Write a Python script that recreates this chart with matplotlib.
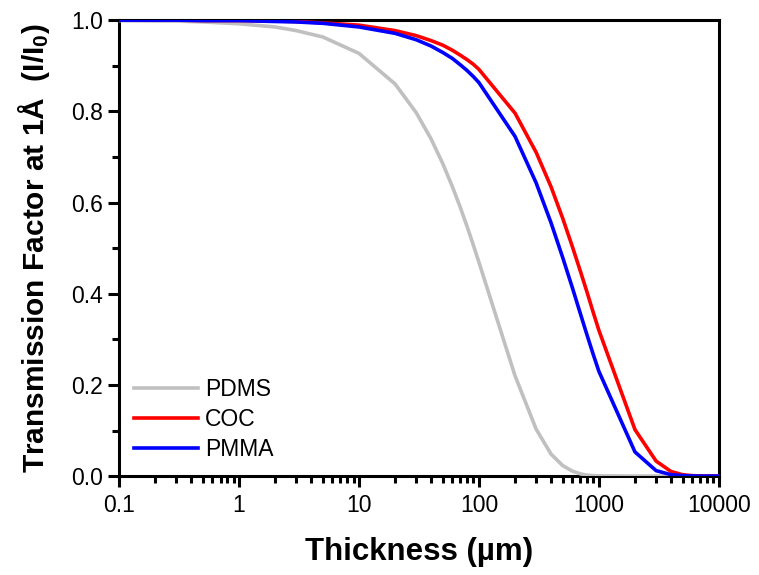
import matplotlib
matplotlib.use("Agg")
import matplotlib.pyplot as plt
from matplotlib.ticker import LogLocator, FixedLocator, MultipleLocator

plt.rcParams['font.family'] = ['Liberation Sans', 'DejaVu Sans']
plt.rcParams['mathtext.default'] = 'regular'

# thickness in um
thickness = [0.1, 0.2, 0.3, 0.5, 1, 2, 3, 5, 10, 20, 30, 40, 50, 60, 70, 80, 90,
             100, 200, 300, 400, 500, 600, 700, 800, 900, 1000,
             2000, 3000, 4000, 5000, 6000, 7000, 8000, 9000, 10000]

pdms = [0.999, 0.998, 0.998, 0.996, 0.992, 0.985, 0.977, 0.963, 0.927, 0.860,
        0.797, 0.739, 0.685, 0.635, 0.589, 0.546, 0.506,
        0.469, 0.220, 0.103, 0.048, 0.023, 0.011, 0.005, 0.002, 0.001, 0.0005,
        0.0, 0.0, 0.0, 0.0, 0.0, 0.0, 0.0, 0.0, 0.0]

coc = [1.0, 1.0, 1.0, 0.999, 0.999, 0.998, 0.997, 0.994, 0.989, 0.977,
       0.966, 0.955, 0.945, 0.934, 0.923, 0.913, 0.903,
       0.892, 0.796, 0.710, 0.634, 0.565, 0.504, 0.450, 0.402, 0.358, 0.320,
       0.102, 0.033, 0.010, 0.003, 0.001, 0.0003, 0.0001, 0.0, 0.0]

pmma = [1.0, 1.0, 1.0, 0.999, 0.999, 0.997, 0.996, 0.993, 0.985, 0.971,
        0.957, 0.943, 0.929, 0.916, 0.902, 0.889, 0.876,
        0.863, 0.745, 0.643, 0.555, 0.479, 0.414, 0.357, 0.308, 0.266, 0.230,
        0.053, 0.012, 0.003, 0.001, 0.0002, 0.0, 0.0, 0.0, 0.0]

fig = plt.figure(figsize=(7.59, 5.75), dpi=100)
ax = fig.add_axes([0.157, 0.172, 0.790, 0.793])

ax.plot(thickness, pdms, color='#c0c0c0', lw=2.6, label='PDMS', zorder=3)
ax.plot(thickness, coc, color='#ff0000', lw=2.6, label='COC', zorder=3)
ax.plot(thickness, pmma, color='#0000ff', lw=2.6, label='PMMA', zorder=3)

ax.set_xscale('log')
ax.set_xlim(0.1, 10000)
ax.set_ylim(0, 1.0)

ax.xaxis.set_major_locator(FixedLocator([0.1, 1, 10, 100, 1000, 10000]))
ax.set_xticklabels(['0.1', '1', '10', '100', '1000', '10000'])
ax.xaxis.set_minor_locator(LogLocator(base=10, subs=range(2, 10), numticks=20))
ax.yaxis.set_major_locator(MultipleLocator(0.2))
ax.yaxis.set_minor_locator(MultipleLocator(0.1))
ax.set_yticklabels(['%.1f' % v for v in ax.get_yticks()])

for s in ax.spines.values():
    s.set_linewidth(2.2)

ax.tick_params(which='major', direction='out', length=8, width=2.2,
               labelsize=16.5, top=False, right=False)
ax.tick_params(which='minor', direction='out', length=5, width=2.2,
               top=False, right=False)
ax.tick_params(axis='x', which='major', pad=5)

ax.set_xlabel('Thickness (\u00b5m)', fontsize=22.5, fontweight='bold', labelpad=14)
ax.set_ylabel('Transmission Factor at 1\u00c5  (I/I$_0$)', fontsize=21.5,
              fontweight='bold', labelpad=14)

ax.legend(loc='lower left', frameon=False, fontsize=16.5, handlelength=2.8,
          handletextpad=0.3, labelspacing=0.3, borderaxespad=0.25)

fig.savefig('out.png', dpi=100)
